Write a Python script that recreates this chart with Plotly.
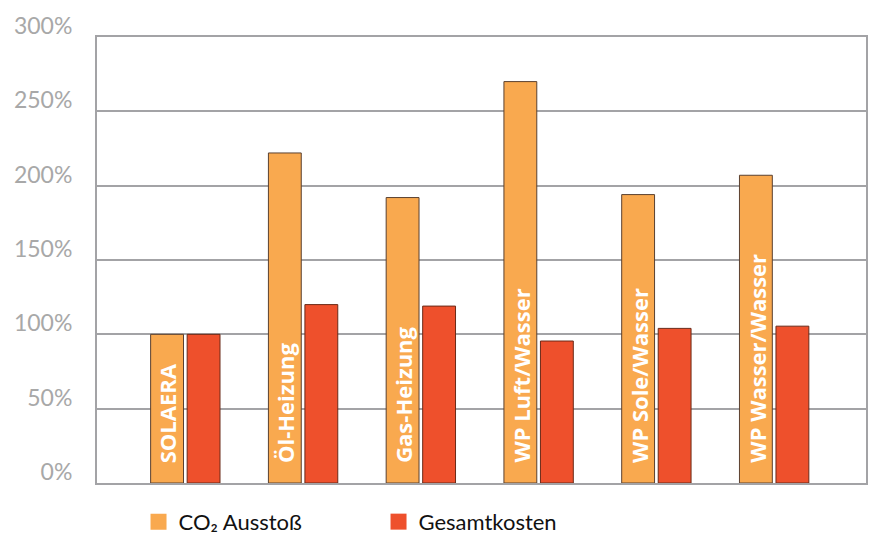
import plotly.graph_objects as go

categories = ["SOLAERA", "Öl-Heizung", "Gas-Heizung", "WP Luft/Wasser", "WP Sole/Wasser", "WP Wasser/Wasser"]
co2 = [100, 222, 192, 270, 194, 207]
kosten = [100, 120, 119, 95.5, 104, 105.5]
tick_vals = [0, 50, 100, 150, 200, 250, 300]
tick_text = ["0%", "50%", "100%", "150%", "200%", "250%", "300%"]
series_names = ["CO\u2082 Ausstoß", "Gesamtkosten"]

ORANGE = "#F9A94F"
RED = "#EE502C"
GRID = "#A3A3A6"
x = list(range(len(categories)))

fig = go.Figure()
fig.add_trace(go.Bar(
    x=x, y=co2, name=series_names[0], marker=dict(color=ORANGE, line=dict(color="#5a4030", width=1)),
    showlegend=False))
fig.add_trace(go.Bar(
    x=x, y=kosten, name=series_names[1], marker=dict(color=RED, line=dict(color="#6a2a18", width=1)),
    showlegend=False))
# legend proxies
fig.add_trace(go.Scatter(x=[None], y=[None], mode="markers", name=series_names[0],
                         marker=dict(symbol="square", size=20, color=ORANGE, line=dict(width=0))))
fig.add_trace(go.Scatter(x=[None], y=[None], mode="markers", name=series_names[1],
                         marker=dict(symbol="square", size=20, color=RED, line=dict(width=0))))

# category labels written up inside the orange bars
for xi, label in zip(x, categories):
    fig.add_annotation(x=xi, y=0, xref="x", yref="y", text=label, showarrow=False,
                       textangle=-90, xanchor="center", yanchor="bottom",
                       xshift=-18, yshift=18,
                       font=dict(color="white", size=22, family="Open Sans", weight="bold"))

fig.update_layout(
    width=873, height=534,
    margin=dict(l=97, r=7, t=37, b=51, autoexpand=False),
    plot_bgcolor="white", paper_bgcolor="white",
    barmode="group", bargap=0.38, bargroupgap=0.1,
    font=dict(family="Lato", color="#111111"),
    legend=dict(orientation="h", x=0.054, xanchor="left", y=-0.04, yanchor="top",
                font=dict(size=22, color="#111111"), entrywidth=195, entrywidthmode="pixels",
                itemclick=False),
    xaxis=dict(range=[-0.75, 5.78], showticklabels=False, showgrid=False, zeroline=False,
               showline=True, linecolor=GRID, linewidth=2, mirror=True, ticks=""),
    yaxis=dict(range=[0, 300], tickvals=tick_vals, ticktext=tick_text, showgrid=True,
               gridcolor=GRID, gridwidth=1.5, zeroline=False, showline=True, linecolor=GRID,
               linewidth=2, mirror=True, ticks="", ticklabelshift=-11, ticklabelstandoff=18,
               tickfont=dict(size=23, color="#A8A8A8", family="Lato")),
)
fig.write_html("out.html")
